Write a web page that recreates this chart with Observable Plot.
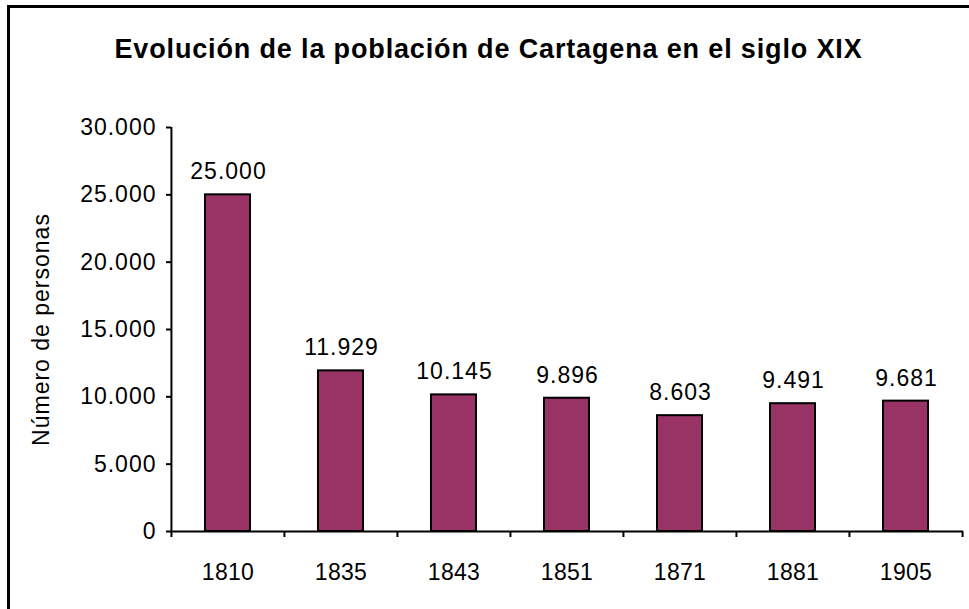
<!DOCTYPE html>
<html><head><meta charset="utf-8">
<script src="https://cdn.jsdelivr.net/npm/d3@7"></script>
<script src="https://cdn.jsdelivr.net/npm/@observablehq/plot@0.6"></script>
<style>
body{margin:0;background:#fff;overflow:hidden}
#wrap{position:relative;width:969px;height:609px;overflow:hidden;font-family:"Liberation Sans",Arial,sans-serif;background:#fff}
#border{position:absolute;left:7px;top:5px;width:2000px;height:2000px;border-left:3px solid #000;border-top:3px solid #000}
#title{position:absolute;left:4px;width:969px;top:36px;line-height:27px;text-align:center;font-weight:bold;font-size:27px;letter-spacing:0.85px;color:#000}
#chart{position:absolute;left:0;top:0}
.num text{letter-spacing:1px}
.xl text{letter-spacing:0.3px}
</style>
</head><body>
<div id="wrap">
  <div id="chart"></div>
  <div id="border"></div>
  <div id="title">Evolución de la población de Cartagena en el siglo XIX</div>
</div>
<script>
const years = ["1810", "1835", "1843", "1851", "1871", "1881", "1905"];
const population = [25000, 11929, 10145, 9896, 8603, 9491, 9681];
const yTicks = [0, 5000, 10000, 15000, 20000, 25000, 30000];
const yLabel = "Número de personas";

const data = years.map((y, i) => ({year: y, value: population[i]}));
const es = d3.formatLocale({decimal: ",", thousands: ".", grouping: [3], currency: ["", "€"]});
const fmt = es.format(",");

const W = 969, H = 609, mL = 171, mR = 6, mT = 127, mB = 78;
const step = (W - mL - mR) / years.length;

const chart = Plot.plot({
  width: W, height: H,
  marginLeft: mL, marginRight: mR, marginTop: mT, marginBottom: mB,
  style: {fontFamily: '"Liberation Sans", Arial, sans-serif', fontSize: "22px", color: "#000", background: "transparent"},
  x: {domain: years, paddingInner: 0.6, paddingOuter: 0.3, label: null},
  y: {domain: [0, 30000], label: null},
  marks: [
    Plot.barY(data, {x: "year", y: "value", fill: "#993366", stroke: "#000", strokeWidth: 2}),
    Plot.ruleY([0], {stroke: "#000", strokeWidth: 2}),
    Plot.ruleX(years.slice(0, 1), {x: d => d, dx: -step / 2, y1: 0, y2: 30000, stroke: "#000", strokeWidth: 2}),
    Plot.ruleX(years, {x: d => d, dx: -step / 2, y1: 0, y2: 0, insetBottom: -6, stroke: "#000", strokeWidth: 2}),
    Plot.ruleX(years.slice(-1), {x: d => d, dx: step / 2, y1: 0, y2: 0, insetBottom: -6, stroke: "#000", strokeWidth: 2}),
    Plot.axisY({ticks: yTicks, tickFormat: fmt, tickSize: 5, tickPadding: 10, stroke: "#000", strokeWidth: 2, label: null, fontSize: 23, className: "num"}),
    Plot.axisX({tickSize: 0, tickPadding: 32, label: null, fontSize: 23, className: "xl"}),
    Plot.text(data, {x: "year", y: "value", text: d => fmt(d.value), dy: -23, dx: 0.5, fontSize: 23, fill: "#000", className: "num"}),
    Plot.text([yLabel], {frameAnchor: "left", rotate: -90, textAnchor: "middle", dx: -130, fontSize: 23, fill: "#000", className: "num"})
  ]
});
document.getElementById("chart").appendChild(chart);
</script>
</body></html>
